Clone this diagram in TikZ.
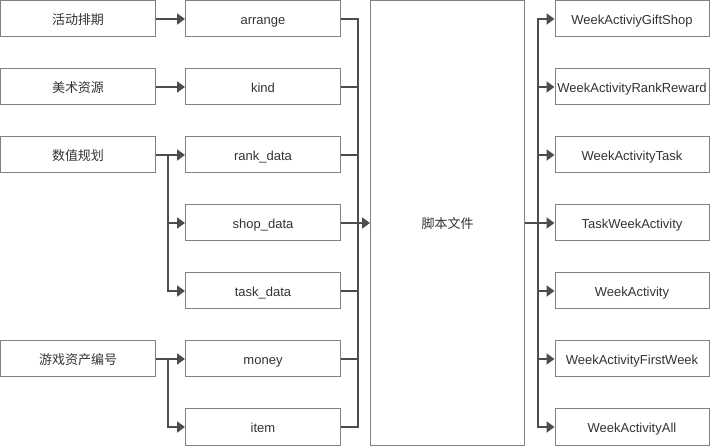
\documentclass[tikz,border=0pt]{standalone}
\usepackage{fontspec}
\setmainfont{Liberation Sans}
\newfontfamily\cjk{Noto Sans CJK SC}
\usepackage{xcolor}
\usepackage{tikz}
\usetikzlibrary{arrows.meta, calc}

\definecolor{boxline}{HTML}{808080}
\definecolor{wire}{HTML}{4D4D4D}
\definecolor{txt}{HTML}{333333}

\begin{document}
\begin{tikzpicture}[x=1pt, y=-1pt,
        item/.style={rectangle, draw=boxline, line width=1pt, inner sep=0pt, minimum width=155pt, minimum height=36pt, text height=11pt, text depth=0pt, text=txt, font=\fontsize{13}{15}\selectfont, align=center},
        script/.style={item, minimum width=154pt, minimum height=445pt},
        conn/.style={-{Triangle[length=8pt, width=11pt]}, draw=wire, line width=2pt},
        wireline/.style={draw=wire, line width=2pt}
    ]
        \useasboundingbox (0,0) rectangle (710,446);

        % Sources
        \node[item] (plan1) at (78, 19)  {\cjk 活动排期};
        \node[item] (plan2) at (78, 87)  {\cjk 美术资源};
        \node[item] (plan3) at (78, 155) {\cjk 数值规划};
        \node[item] (plan4) at (78, 359) {\cjk 游戏资产编号};

        % Tables
        \node[item] (arrange) at (263, 19)  {arrange};
        \node[item] (kind)    at (263, 87)  {kind};
        \node[item] (rank)    at (263, 155) {rank\_data};
        \node[item] (shop)    at (263, 223) {shop\_data};
        \node[item] (task)    at (263, 291) {task\_data};
        \node[item] (money)   at (263, 359) {money};
        \node[item] (goods)   at (263, 427) {item};

        % Script
        \node[script] (lua) at (447.5, 223) {\cjk 脚本文件};

        % Outputs
        \node[item, minimum width=154pt] (out1) at (632, 19)  {WeekActiviyGiftShop};
        \node[item, minimum width=154pt] (out2) at (632, 87)  {WeekActivityRankReward};
        \node[item, minimum width=154pt] (out3) at (632, 155) {WeekActivityTask};
        \node[item, minimum width=154pt] (out4) at (632, 223) {TaskWeekActivity};
        \node[item, minimum width=154pt] (out5) at (632, 291) {WeekActivity};
        \node[item, minimum width=154pt] (out6) at (632, 359) {WeekActivityFirstWeek};
        \node[item, minimum width=154pt] (out7) at (632, 427) {WeekActivityAll};

        % Sources to tables
        \draw[conn] (plan1) -- (arrange);
        \draw[conn] (plan2) -- (kind);
        \draw[conn] (plan3) -- (rank);
        \draw[conn] (plan3.east) -- ++(12,0) |- (shop.west);
        \draw[conn] (plan3.east) -- ++(12,0) |- (task.west);
        \draw[conn] (plan4) -- (money);
        \draw[conn] (plan4.east) -- ++(12,0) |- (goods.west);

        % Tables to script
        \draw[wireline] (arrange.east) -- ++(16.5,0) |- (goods.east);
        \foreach \t in {kind, rank, task, money}
            \draw[wireline] (\t.east) -- ++(16.5,0);
        \draw[conn] (shop.east) -- (lua.west);

        % Script to outputs
        \draw[conn] (lua.east |- out4.west) -- (out4.west);
        \foreach \o in {out1, out2, out3, out5, out6, out7}
            \draw[conn] (lua.east |- out4.west) -- ++(12.5,0) |- (\o.west);

    \end{tikzpicture}
\end{document}
